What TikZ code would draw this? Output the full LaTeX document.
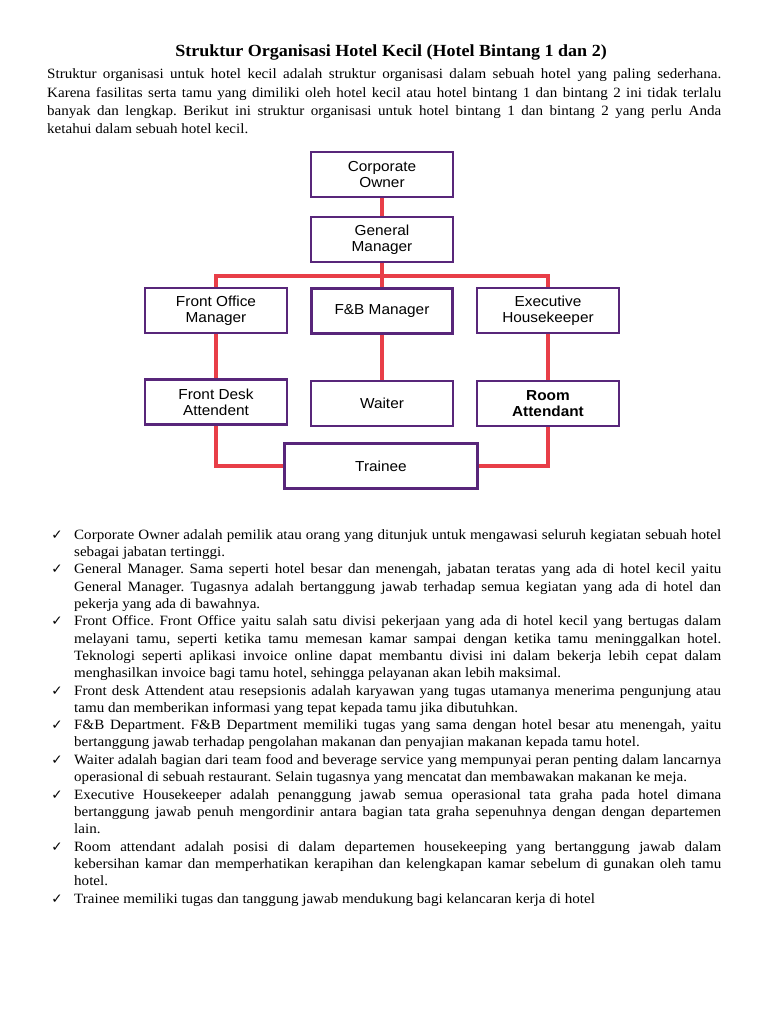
\documentclass[tikz,border=0pt]{standalone}
\usepackage{fontspec}
\setmainfont{Liberation Serif}[FakeStretch=1.06]
\newfontfamily\chartfont{Liberation Sans}[FakeStretch=1.06]
\newfontfamily\tickfont{DejaVu Sans}
\definecolor{boxPurple}{RGB}{88,38,122}
\definecolor{linkRed}{RGB}{232,62,72}
\frenchspacing
\tolerance=9999

\begin{document}
\begin{tikzpicture}
[x=1pt,y=-1pt,
  boxDecorate/.style={shape=rectangle,draw=boxPurple,line width=2.8pt,minimum height=45pt,
    inner sep=2pt,align=center,text=black,font=\chartfont\fontsize{14.5}{16}\selectfont},%
  lineDecorate/.style={-,draw=linkRed,line width=3.2pt},%
  titleDecorate/.style={anchor=base,inner sep=0pt,font=\bfseries\fontsize{17}{19}\selectfont},%
  introDecorate/.style={anchor=base west,inner sep=0pt,text width=674pt,align=justify,
    font=\fontsize{14.2}{18.3}\selectfont},%
  itemDecorate/.style={anchor=base west,inner sep=0pt,text width=647pt,align=justify,
    font=\fontsize{14.2}{17.33}\selectfont},%
  tickDecorate/.style={anchor=base,inner sep=0pt,font=\tickfont\fontsize{13.5}{15}\selectfont}]
\fill[white] (0,0) rectangle (768,1024);
\useasboundingbox (0,0) rectangle (768,1024);

%% heading and opening paragraph
\node (title) at (391,57) [titleDecorate] {Struktur Organisasi Hotel Kecil (Hotel Bintang 1 dan 2)};
\node (intro) at (47,79) [introDecorate] {%
  Struktur organisasi untuk hotel kecil adalah struktur organisasi dalam sebuah hotel yang paling sederhana.\linebreak
  Karena fasilitas serta tamu yang dimiliki oleh hotel kecil atau hotel bintang 1 dan bintang 2 ini tidak terlalu\linebreak
  banyak dan lengkap. Berikut ini struktur organisasi untuk hotel bintang 1 dan bintang 2 yang perlu Anda\linebreak
  ketahui dalam sebuah hotel kecil.};

%% boxes of the chart
\foreach \boxname/\x/\y/\w/\label in {
  owner/382/174.5/142/{Corporate\\Owner},
  gm/382/239.5/142/{General\\Manager},
  fom/216/310.5/142/{Front Office\\Manager},
  fbm/382/311/141/{F\&B Manager},
  exh/548/310.5/142/{Executive\\Housekeeper},
  fda/216/402/142/{Front Desk\\Attendent},
  waiter/382/403.5/142/{Waiter},
  room/548/403.5/142/{\textbf{Room}\\\textbf{Attendant}},
  trainee/381/466/193/{Trainee}}
{
  \node (\boxname) at (\x,\y) [boxDecorate,minimum width=\w pt] {\label};
}
\coordinate (bus) at (382,276);

%% connectors
\path
\foreach \startnode/\endnode in {owner/gm, gm/fbm, fom/fda, fbm/waiter, exh/room}
{
  (\startnode) edge[lineDecorate] (\endnode)
};
\draw[lineDecorate] (fom.north) |- (bus) -| (exh.north);
\draw[lineDecorate] (fda.south) |- (trainee.west);
\draw[lineDecorate] (room.south) |- (trainee.east);

%% list of the posts
\foreach \tickname/\y in {t1/539, t2/573.7, t3/625.7, t4/695, t5/729.6, t6/764.3, t7/799, t8/851, t9/903}
{
  \node (\tickname) at (57,\y) [tickDecorate] {✓};
}
\node (item1) at (74,539) [itemDecorate] {%
  Corporate Owner adalah pemilik atau orang yang ditunjuk untuk mengawasi seluruh kegiatan sebuah hotel\linebreak
  sebagai jabatan tertinggi.};
\node (item2) at (74,573.7) [itemDecorate] {%
  General Manager. Sama seperti hotel besar dan menengah, jabatan teratas yang ada di hotel kecil yaitu\linebreak
  General Manager. Tugasnya adalah bertanggung jawab terhadap semua kegiatan yang ada di hotel dan\linebreak
  pekerja yang ada di bawahnya.};
\node (item3) at (74,625.7) [itemDecorate] {%
  Front Office. Front Office yaitu salah satu divisi pekerjaan yang ada di hotel kecil yang bertugas dalam\linebreak
  melayani tamu, seperti ketika tamu memesan kamar sampai dengan ketika tamu meninggalkan hotel.\linebreak
  Teknologi seperti aplikasi invoice online dapat membantu divisi ini dalam bekerja lebih cepat dalam\linebreak
  menghasilkan invoice bagi tamu hotel, sehingga pelayanan akan lebih maksimal.};
\node (item4) at (74,695) [itemDecorate] {%
  Front desk Attendent atau resepsionis adalah karyawan yang tugas utamanya menerima pengunjung atau\linebreak
  tamu dan memberikan informasi yang tepat kepada tamu jika dibutuhkan.};
\node (item5) at (74,729.6) [itemDecorate] {%
  F\&B Department. F\&B Department memiliki tugas yang sama dengan hotel besar atu menengah, yaitu\linebreak
  bertanggung jawab terhadap pengolahan makanan dan penyajian makanan kepada tamu hotel.};
\node (item6) at (74,764.3) [itemDecorate] {%
  Waiter adalah bagian dari team food and beverage service yang mempunyai peran penting dalam lancarnya\linebreak
  operasional di sebuah restaurant. Selain tugasnya yang mencatat dan membawakan makanan ke meja.};
\node (item7) at (74,799) [itemDecorate] {%
  Executive Housekeeper adalah penanggung jawab semua operasional tata graha pada hotel dimana\linebreak
  bertanggung jawab penuh mengordinir antara bagian tata graha sepenuhnya dengan dengan departemen\linebreak
  lain.};
\node (item8) at (74,851) [itemDecorate] {%
  Room attendant adalah posisi di dalam departemen housekeeping yang bertanggung jawab dalam\linebreak
  kebersihan kamar dan memperhatikan kerapihan dan kelengkapan kamar sebelum di gunakan oleh tamu\linebreak
  hotel.};
\node (item9) at (74,903) [itemDecorate] {%
  Trainee memiliki tugas dan tanggung jawab mendukung bagi kelancaran kerja di hotel};
\end{tikzpicture}
\end{document}
